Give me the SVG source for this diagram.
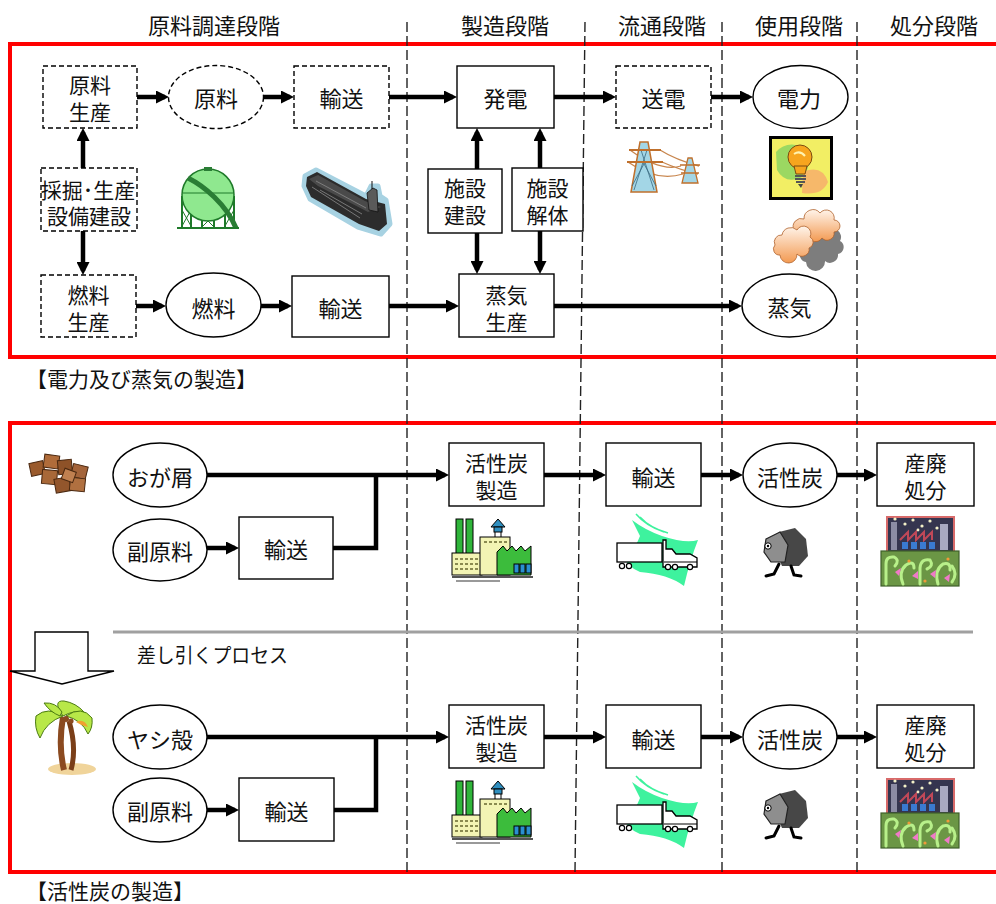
<svg xmlns="http://www.w3.org/2000/svg" width="996" height="904" viewBox="0 0 996 904">
<style>
  text { font-family: "Noto Sans CJK JP", "Noto Sans", sans-serif; fill: #111; }
  .hd { font-size: 22px; text-anchor: middle; dominant-baseline: central; }
  .t { font-size: 22px; text-anchor: middle; dominant-baseline: central; }
  .t2 { font-size: 21px; text-anchor: middle; dominant-baseline: central; }
  .cap { font-size: 21px; dominant-baseline: central; }
  .box { fill: #fff; stroke: #000; stroke-width: 1.4; }
  .dbox { fill: #fff; stroke: #000; stroke-width: 1.4; stroke-dasharray: 5 3; }
  .frame { fill: none; stroke: #ff0000; stroke-width: 4; }
  .sep { stroke: #222; stroke-width: 1.4; stroke-dasharray: 10 4; fill: none; }
  .flow { fill: none; stroke: #000; stroke-width: 4.5; marker-end: url(#ah); }
  .join { fill: none; stroke: #000; stroke-width: 4.5; }
  .ol { stroke: #000; stroke-width: 1; }
</style>
<defs>
  <marker id="ah" markerUnits="userSpaceOnUse" markerWidth="13" markerHeight="13" viewBox="0 0 13 13" refX="9" refY="6.5" orient="auto">
    <path d="M0,0 L13,6.5 L0,13 z" fill="#000"/>
  </marker>
  <linearGradient id="cloudFill" x1="0" y1="0" x2="0" y2="1">
    <stop offset="0" stop-color="#fff4ea"/>
    <stop offset="1" stop-color="#f39a52"/>
  </linearGradient>

  <!-- factory clip art -->
  <g id="factory">
    <rect x="456" y="519" width="7" height="40" fill="#2fb53a" class="ol"/>
    <rect x="466" y="519" width="7" height="40" fill="#2fb53a" class="ol"/>
    <rect x="452" y="553" width="30" height="22" fill="#f3f4b4" class="ol"/>
    <g fill="#8a8a50">
      <rect x="455" y="558" width="3" height="2"/><rect x="460" y="558" width="3" height="2"/><rect x="465" y="558" width="3" height="2"/><rect x="470" y="558" width="3" height="2"/><rect x="475" y="558" width="3" height="2"/>
      <rect x="455" y="563" width="3" height="2"/><rect x="460" y="563" width="3" height="2"/><rect x="465" y="563" width="3" height="2"/><rect x="470" y="563" width="3" height="2"/><rect x="475" y="563" width="3" height="2"/>
      <rect x="455" y="568" width="3" height="2"/><rect x="460" y="568" width="3" height="2"/><rect x="465" y="568" width="3" height="2"/><rect x="470" y="568" width="3" height="2"/><rect x="475" y="568" width="3" height="2"/>
    </g>
    <rect x="480" y="537" width="30" height="38" fill="#f3f4b4" class="ol"/>
    <g fill="#8a8a50">
      <rect x="484" y="541" width="3" height="2"/><rect x="489" y="541" width="3" height="2"/><rect x="494" y="541" width="3" height="2"/><rect x="499" y="541" width="3" height="2"/><rect x="504" y="541" width="3" height="2"/>
    </g>
    <path d="M491,527 L498,519 L505,527 Z" fill="#2f8fc0" class="ol"/>
    <rect x="494" y="527" width="8" height="5" fill="#2f8fc0" class="ol"/>
    <path d="M495,532 V537 M501,532 V537" stroke="#000" stroke-width="1"/>
    <path d="M497,575 V552 L503,546 L507,551 L512,546 L516,551 L521,546 L525,551 L531,546 V575 Z" fill="#3cbc3c" class="ol"/>
    <rect x="514" y="564" width="5" height="9" fill="#2a90d0" class="ol"/>
    <rect x="520" y="564" width="5" height="9" fill="#2a90d0" class="ol"/>
    <rect x="526" y="564" width="5" height="9" fill="#2a90d0" class="ol"/>
    <line x1="452" y1="577" x2="533" y2="577" stroke="#555" stroke-width="2"/>
    <line x1="456" y1="581" x2="500" y2="581" stroke="#777" stroke-width="1.5"/>
  </g>

  <!-- truck clip art -->
  <g id="truck">
    <path d="M632,520 Q645,530 662,536 Q686,544 698,540 Q690,560 684,586 Q668,574 640,572 Q626,566 624,556 Q636,548 640,536 Z" fill="#3ef29e"/>
    <path d="M636,514 Q646,526 664,532 M640,517 Q650,528 668,533" stroke="#3ef29e" stroke-width="1.5" fill="none"/>
    <rect x="617" y="543" width="45" height="19" fill="#fff" stroke="#000" stroke-width="1.3"/>
    <path d="M663,549 V540 H666 V549 H672 L676,554 H690 L697,558 V567 H663 Z" fill="#fff" stroke="#000" stroke-width="1.3"/>
    <path d="M664,562 H697" stroke="#000" stroke-width="1"/>
    <g fill="#fff" stroke="#000" stroke-width="1.2">
      <circle cx="622" cy="566" r="2.6"/><circle cx="629" cy="566" r="2.6"/>
      <circle cx="668" cy="567" r="2.6"/><circle cx="675" cy="567" r="2.6"/><circle cx="690" cy="567" r="2.6"/>
    </g>
  </g>

  <!-- walking charcoal figure -->
  <g id="coal">
    <path d="M779,532 L795,528 L806,539 L808,556 L799,566 L782,566 L775,550 Z" fill="#474747"/>
    <path d="M766,539 L780,532 L788,545 L785,562 L771,562 L764,552 Z" fill="#8e8e8e" stroke="#222" stroke-width="1.2"/>
    <circle cx="768" cy="546" r="3.2" fill="#fff" stroke="#000" stroke-width="1"/>
    <circle cx="768" cy="546" r="1.2" fill="#000"/>
    <path d="M779,564 L774,574 L766,576 M791,566 L794,575 L801,576" stroke="#000" stroke-width="3" fill="none" stroke-linecap="round"/>
  </g>

  <!-- industrial waste clip art -->
  <g id="waste">
    <rect x="887" y="517" width="67" height="38" fill="#35354f" stroke="#d86a6a" stroke-width="2"/>
    <rect x="891" y="522" width="6" height="28" fill="#8c8ca4"/>
    <path d="M900,540 L908,532 V540 L916,532 V540 L924,532 V540 L932,532 V540" stroke="#c04858" stroke-width="2" fill="none"/>
    <rect x="940" y="524" width="8" height="26" fill="#a8a8c0"/>
    <g fill="#3a7ad0"><rect x="902" y="542" width="6" height="7"/><rect x="911" y="542" width="6" height="7"/><rect x="920" y="542" width="6" height="7"/><rect x="929" y="542" width="6" height="7"/></g>
    <g fill="#f2f0c8">
      <circle cx="895" cy="519" r="1.6"/><circle cx="905" cy="524" r="1.6"/><circle cx="913" cy="520" r="1.6"/><circle cx="922" cy="526" r="1.6"/><circle cx="930" cy="521" r="1.6"/><circle cx="937" cy="528" r="1.6"/><circle cx="918" cy="530" r="1.4"/>
    </g>
    <rect x="881" y="551" width="78" height="35" fill="#6b9645" stroke="#3f5f2a" stroke-width="1.2"/>
    <g stroke="#b8f08a" stroke-width="3" fill="none" stroke-linecap="round">
      <path d="M886,584 V564 Q886,556 894,557 Q900,560 895,566"/>
      <path d="M903,584 Q898,572 906,565 Q914,560 914,568"/>
      <path d="M920,584 V568 Q921,558 930,560 Q934,566 927,569"/>
      <path d="M938,584 Q934,570 943,564 Q951,562 950,570"/>
      <path d="M952,582 Q958,574 952,566"/>
    </g>
    <g fill="#f07ac8">
      <path d="M895,572 L901,568 L899,576 Z"/><path d="M912,576 L918,571 L918,579 Z"/><path d="M930,574 L936,570 L935,578 Z"/><path d="M944,578 L950,574 L949,582 Z"/>
    </g>
    <g fill="#f09a3a"><circle cx="909" cy="561" r="1.6"/><circle cx="925" cy="581" r="1.6"/><circle cx="948" cy="559" r="1.6"/></g>
  </g>
</defs>

<!-- outer frames of the two sections -->
<rect class="frame" x="10" y="44" width="1000" height="313"/>
<rect class="frame" x="10" y="423" width="1000" height="449"/>

<!-- stage separators -->
<g id="separators">
  <line class="sep" x1="407" y1="22" x2="407" y2="872"/>
  <line class="sep" x1="585" y1="22" x2="575" y2="872"/>
  <line class="sep" x1="722" y1="22" x2="722" y2="872"/>
  <line class="sep" x1="857" y1="22" x2="857" y2="872"/>
</g>

<!-- stage headers -->
<g id="headers">
  <text class="hd" x="214" y="24">原料調達段階</text>
  <text class="hd" x="505" y="24">製造段階</text>
  <text class="hd" x="662" y="24">流通段階</text>
  <text class="hd" x="799" y="24">使用段階</text>
  <text class="hd" x="934" y="24">処分段階</text>
</g>

<!-- section captions -->
<text class="cap" x="26" y="378">【電力及び蒸気の製造】</text>
<text class="cap" x="26" y="890">【活性炭の製造】</text>

<!-- divider between the two charcoal processes -->
<line x1="113" y1="632" x2="973" y2="632" stroke="#a0a0a0" stroke-width="3"/>
<path d="M35,632 H88 V671 H114 L62,684 L10,671 H35 Z" fill="#fff" stroke="#000" stroke-width="1.4"/>
<text x="137" y="654" style="font-size:20px;dominant-baseline:central" textLength="151" lengthAdjust="spacingAndGlyphs">差し引くプロセス</text>

<!-- connectors -->
<g id="connectors">
  <path class="flow" d="M137,97 H165"/>
  <path class="flow" d="M263,97 H290"/>
  <path class="flow" d="M389,97 H453"/>
  <path class="flow" d="M554,97 H612"/>
  <path class="flow" d="M711,97 H749"/>
  <path class="flow" d="M83,168 V132"/>
  <path class="flow" d="M83,231 V271"/>
  <path class="flow" d="M136,306 H162"/>
  <path class="flow" d="M261,306 H288"/>
  <path class="flow" d="M389,306 H455"/>
  <path class="flow" d="M554,306 H738"/>
  <path class="flow" d="M477,169 V132"/>
  <path class="flow" d="M477,233 V270"/>
  <path class="flow" d="M540,168 V132"/>
  <path class="flow" d="M540,231 V270"/>

  <path class="flow" d="M207,475 H445"/>
  <path class="flow" d="M207,548 H235"/>
  <path class="join" d="M333,548 H376 V475"/>
  <path class="flow" d="M544,475 H602"/>
  <path class="flow" d="M701,475 H739"/>
  <path class="flow" d="M837,475 H873"/>

  <path class="flow" d="M207,737 H445"/>
  <path class="flow" d="M207,810 H235"/>
  <path class="join" d="M334,810 H376 V737"/>
  <path class="flow" d="M544,737 H602"/>
  <path class="flow" d="M701,737 H739"/>
  <path class="flow" d="M837,737 H873"/>
</g>

<!-- power and steam nodes -->
<g id="n-genryo-seisan"><rect class="dbox" x="43" y="66" width="94" height="62"/><text class="t2"><tspan x="90" y="84">原料</tspan><tspan x="90" y="111">生産</tspan></text></g>
<g id="n-genryo"><ellipse class="dbox" cx="216" cy="97" rx="47.5" ry="31.5"/><text class="t" x="216" y="97">原料</text></g>
<g id="n-yuso-1"><rect class="dbox" x="294" y="66" width="95" height="62"/><text class="t" x="341.5" y="97">輸送</text></g>
<g id="n-hatsuden"><rect class="box" x="457" y="66" width="97" height="62"/><text class="t" x="505.5" y="97">発電</text></g>
<g id="n-soden"><rect class="dbox" x="616" y="66" width="95" height="62"/><text class="t" x="663.5" y="97">送電</text></g>
<g id="n-denryoku"><ellipse class="box" cx="800.5" cy="97" rx="47.5" ry="31.5"/><text class="t" x="799" y="97">電力</text></g>
<g id="n-kussaku"><rect class="dbox" x="41" y="168" width="96" height="63"/><text class="t2"><tspan x="88" y="188.5">採掘･生産</tspan><tspan x="89" y="214.5">設備建設</tspan></text></g>
<g id="n-nenryo-seisan"><rect class="dbox" x="41" y="275" width="95" height="62"/><text class="t2"><tspan x="88.5" y="294">燃料</tspan><tspan x="88.5" y="321">生産</tspan></text></g>
<g id="n-nenryo"><ellipse class="box" cx="213.5" cy="305" rx="47.5" ry="32"/><text class="t" x="213.5" y="307">燃料</text></g>
<g id="n-yuso-2"><rect class="box" x="292" y="276" width="97" height="61"/><text class="t" x="340.5" y="307">輸送</text></g>
<g id="n-shisetsu-kensetsu"><rect class="box" x="428" y="169" width="74" height="64"/><text class="t2"><tspan x="465" y="187">施設</tspan><tspan x="465" y="214">建設</tspan></text></g>
<g id="n-shisetsu-kaitai"><rect class="box" x="512" y="168" width="71" height="63"/><text class="t2"><tspan x="547.5" y="187">施設</tspan><tspan x="547.5" y="214">解体</tspan></text></g>
<g id="n-joki-seisan"><rect class="box" x="459" y="274" width="95" height="63"/><text class="t2"><tspan x="506.5" y="294">蒸気</tspan><tspan x="506.5" y="321">生産</tspan></text></g>
<g id="n-joki"><ellipse class="box" cx="789.5" cy="305.5" rx="47.5" ry="31.5"/><text class="t" x="789.5" y="306">蒸気</text></g>

<!-- activated carbon nodes, sawdust route -->
<g id="n-ogakuzu"><ellipse class="box" cx="160" cy="475" rx="47" ry="32"/><text class="t" x="160" y="476">おが屑</text></g>
<g id="n-fukugenryo-1"><ellipse class="box" cx="160" cy="550" rx="47" ry="31"/><text class="t" x="160" y="550">副原料</text></g>
<g id="n-yuso-3"><rect class="box" x="239" y="517" width="94" height="62"/><text class="t" x="286" y="548">輸送</text></g>
<g id="n-kasseitan-seizo-1"><rect class="box" x="449" y="443" width="95" height="63"/><text class="t2"><tspan x="496.5" y="462">活性炭</tspan><tspan x="496.5" y="489">製造</tspan></text></g>
<g id="n-yuso-4"><rect class="box" x="606" y="443" width="95" height="63"/><text class="t" x="653.5" y="476">輸送</text></g>
<g id="n-kasseitan-1"><ellipse class="box" cx="790" cy="475" rx="47" ry="32"/><text class="t" x="790" y="476">活性炭</text></g>
<g id="n-sanpai-1"><rect class="box" x="877" y="443" width="97" height="63"/><text class="t2"><tspan x="925.5" y="462">産廃</tspan><tspan x="925.5" y="489">処分</tspan></text></g>

<!-- activated carbon nodes, coconut shell route -->
<g id="n-yashigara"><ellipse class="box" cx="160" cy="737" rx="47" ry="32"/><text class="t" x="160" y="738">ヤシ殻</text></g>
<g id="n-fukugenryo-2"><ellipse class="box" cx="160" cy="810" rx="47" ry="32"/><text class="t" x="160" y="810">副原料</text></g>
<g id="n-yuso-5"><rect class="box" x="239" y="778" width="95" height="63"/><text class="t" x="286.5" y="810">輸送</text></g>
<g id="n-kasseitan-seizo-2"><rect class="box" x="449" y="705" width="95" height="63"/><text class="t2"><tspan x="496.5" y="724">活性炭</tspan><tspan x="496.5" y="751">製造</tspan></text></g>
<g id="n-yuso-6"><rect class="box" x="606" y="705" width="95" height="63"/><text class="t" x="653.5" y="738">輸送</text></g>
<g id="n-kasseitan-2"><ellipse class="box" cx="790" cy="737" rx="47" ry="32"/><text class="t" x="790" y="738">活性炭</text></g>
<g id="n-sanpai-2"><rect class="box" x="877" y="705" width="97" height="63"/><text class="t2"><tspan x="925.5" y="724">産廃</tspan><tspan x="925.5" y="751">処分</tspan></text></g>

<!-- spherical gas tank -->
<g id="ic-tank">
  <g stroke="#1f7a2a" fill="none">
    <path d="M182,196 V228 M191,206 V228 M202,212 V228 M214,212 V228 M225,206 V228 M234,196 V228" stroke-width="2"/>
    <path d="M182,210 L191,226 M191,210 L182,226 M225,210 L234,226 M234,210 L225,226 M202,215 L214,227 M214,215 L202,227" stroke-width="1"/>
  </g>
  <circle cx="208" cy="195" r="26" fill="#8fe88f" stroke="#1f7a2a" stroke-width="1.5"/>
  <path d="M183,193 H233" stroke="#1f7a2a" stroke-width="1"/>
  <path d="M188,178 C204,186 226,204 236,228" stroke="#2a7d35" stroke-width="5" fill="none"/>
  <rect x="204" y="167" width="8" height="4" fill="#2a7d35"/>
  <line x1="177" y1="228" x2="239" y2="228" stroke="#1f7a2a" stroke-width="2"/>
</g>

<!-- tanker ship -->
<g id="ic-ship">
  <path d="M305,176 L316,170 L366,196 L371,186 L378,186 L380,196 L386,200 L390,224 L381,234 L358,227 L310,199 L304,186 Z" fill="#a7d2e2" stroke="#a7d2e2" stroke-width="5" stroke-linejoin="round"/>
  <path d="M307,177 L317,172 L366,199 L385,204 L387,224 L379,231 L359,224 L311,197 L306,186 Z" fill="#2c2c2c"/>
  <path d="M309,179 L318,175 L365,201 L381,207 L368,212 L318,186 Z" fill="#4a4a4a"/>
  <path d="M316,181 L366,208 M320,190 L362,214 M312,187 L360,218" stroke="#8a8a8a" stroke-width="0.8"/>
  <path d="M367,193 L373,188 L377,190 L378,212 L369,210 Z" fill="#5a5a5a" stroke="#111" stroke-width="0.8"/>
  <path d="M372,181 V189" stroke="#111" stroke-width="1"/>
</g>

<!-- transmission towers -->
<g id="ic-pylon">
  <path d="M630,150 Q660,172 681,166 M660,150 Q676,160 699,166 M628,162 Q656,182 683,174 M662,162 Q680,170 698,174" stroke="#c8864e" stroke-width="1.3" fill="none"/>
  <path d="M640,142 H648 L657,192 H631 Z" fill="#a3d6e6" stroke="#c0702c" stroke-width="1.5"/>
  <path d="M641,150 L654,190 M647,150 L634,190 M643,162 L656,186 M645,162 L632,186" stroke="#3a6a80" stroke-width="0.8"/>
  <path d="M629,150 H661 M627,162 H663" stroke="#c0702c" stroke-width="2"/>
  <path d="M688,158 H692 L698,183 H682 Z" fill="#a3d6e6" stroke="#c0702c" stroke-width="1.3"/>
  <path d="M680,165 H700 M681,173 H699" stroke="#c0702c" stroke-width="1.6"/>
</g>

<!-- light bulb -->
<g id="ic-bulb">
  <rect x="770.5" y="137.5" width="61" height="61" fill="#f2ee64" stroke="#000" stroke-width="3"/>
  <path d="M776,152 Q786,140 804,147 Q814,160 804,176 Q786,186 777,170 Z" fill="#9bd862"/>
  <path d="M803,172 Q822,164 828,182 Q822,196 802,193 Z" fill="#f6b86a"/>
  <circle cx="800" cy="157" r="12" fill="#f7a51e" stroke="#7a4a10" stroke-width="1"/>
  <path d="M794,154 Q800,150 805,156" stroke="#fff3b0" stroke-width="2" fill="none"/>
  <path d="M794,166 L796,174 H805 L807,166 Z" fill="#f7a51e" stroke="#7a4a10" stroke-width="1"/>
  <g stroke="#555" stroke-width="2"><path d="M795,176 H806 M795,179 H806 M796,182 H805"/></g>
  <path d="M798,184 H803 L801,188 Z" fill="#444"/>
</g>

<!-- steam clouds -->
<g id="ic-steam">
  <path d="M806,262 a7,7 0 0 1 -4,-12 a8,8 0 0 1 8,-11 a9,9 0 0 1 16,-6 a8,8 0 0 1 14,8 a7,7 0 0 1 -2,13 a8,8 0 0 1 -13,7 a8,8 0 0 1 -19,1 z" fill="#7d7d7d"/>
  <path d="M798,240 a6,6 0 0 1 -4,-10 a8,8 0 0 1 10,-11 a9,9 0 0 1 16,-6 a8,8 0 0 1 14,7 a6,6 0 0 1 0,12 a7,7 0 0 1 -12,6 a8,8 0 0 1 -14,-1 z" fill="url(#cloudFill)" stroke="#b0622c" stroke-width="0.8"/>
  <path d="M780,255 a6,6 0 0 1 -5,-10 a7,7 0 0 1 7,-10 a9,9 0 0 1 15,-5 a7,7 0 0 1 13,7 a6,6 0 0 1 -1,11 a7,7 0 0 1 -12,6 a8,8 0 0 1 -17,1 z" fill="url(#cloudFill)" stroke="#b0622c" stroke-width="0.8"/>
</g>

<!-- sawdust chips -->
<g id="ic-chips" stroke="#4a2810" stroke-width="1">
  <rect x="30" y="462" width="14" height="13" fill="#9a5a2c" transform="rotate(-12 37 468)"/>
  <rect x="44" y="455" width="15" height="13" fill="#b06c3a" transform="rotate(8 51 461)"/>
  <rect x="58" y="460" width="14" height="14" fill="#8e5228" transform="rotate(-6 65 467)"/>
  <rect x="72" y="465" width="15" height="13" fill="#a4643a" transform="rotate(14 79 471)"/>
  <rect x="42" y="470" width="15" height="14" fill="#a86838" transform="rotate(5 49 477)"/>
  <rect x="55" y="478" width="15" height="14" fill="#93562c" transform="rotate(-10 62 485)"/>
  <rect x="70" y="478" width="15" height="13" fill="#b07040" transform="rotate(6 77 484)"/>
  <rect x="63" y="470" width="12" height="11" fill="#c08050" transform="rotate(20 69 475)"/>
</g>

<!-- palm tree -->
<g id="ic-palm">
  <ellipse cx="72" cy="769" rx="24" ry="6" fill="#f0d49a"/>
  <path d="M64,770 Q58,746 63,717" stroke="#8b4a20" stroke-width="6" fill="none"/>
  <path d="M71,770 Q77,748 69,721" stroke="#7a3e18" stroke-width="5" fill="none"/>
  <g fill="#b8e848" stroke="#4a7a10" stroke-width="1">
    <path d="M63,716 Q48,706 36,716 Q34,728 40,738 Q46,722 63,716 Z"/>
    <path d="M63,716 Q52,700 64,701 Q76,703 84,712 Q74,710 63,716 Z"/>
    <path d="M66,716 Q82,705 92,718 Q93,728 88,734 Q82,720 66,716 Z"/>
    <path d="M60,716 Q50,712 44,703 Q56,702 62,712 Z"/>
  </g>
  <path d="M76,722 Q84,718 88,727 Q82,726 76,722 Z" fill="#f0a030"/>
  <circle cx="66" cy="719" r="3" fill="#8b4a20"/><circle cx="71" cy="721" r="2.6" fill="#8b4a20"/>
</g>

<!-- repeated clip art for the charcoal rows -->
<use href="#factory"/>
<use href="#factory" transform="translate(0,262)"/>
<use href="#truck"/>
<use href="#truck" transform="translate(0,262)"/>
<use href="#coal"/>
<use href="#coal" transform="translate(0,262)"/>
<use href="#waste"/>
<use href="#waste" transform="translate(0,262)"/>
</svg>
